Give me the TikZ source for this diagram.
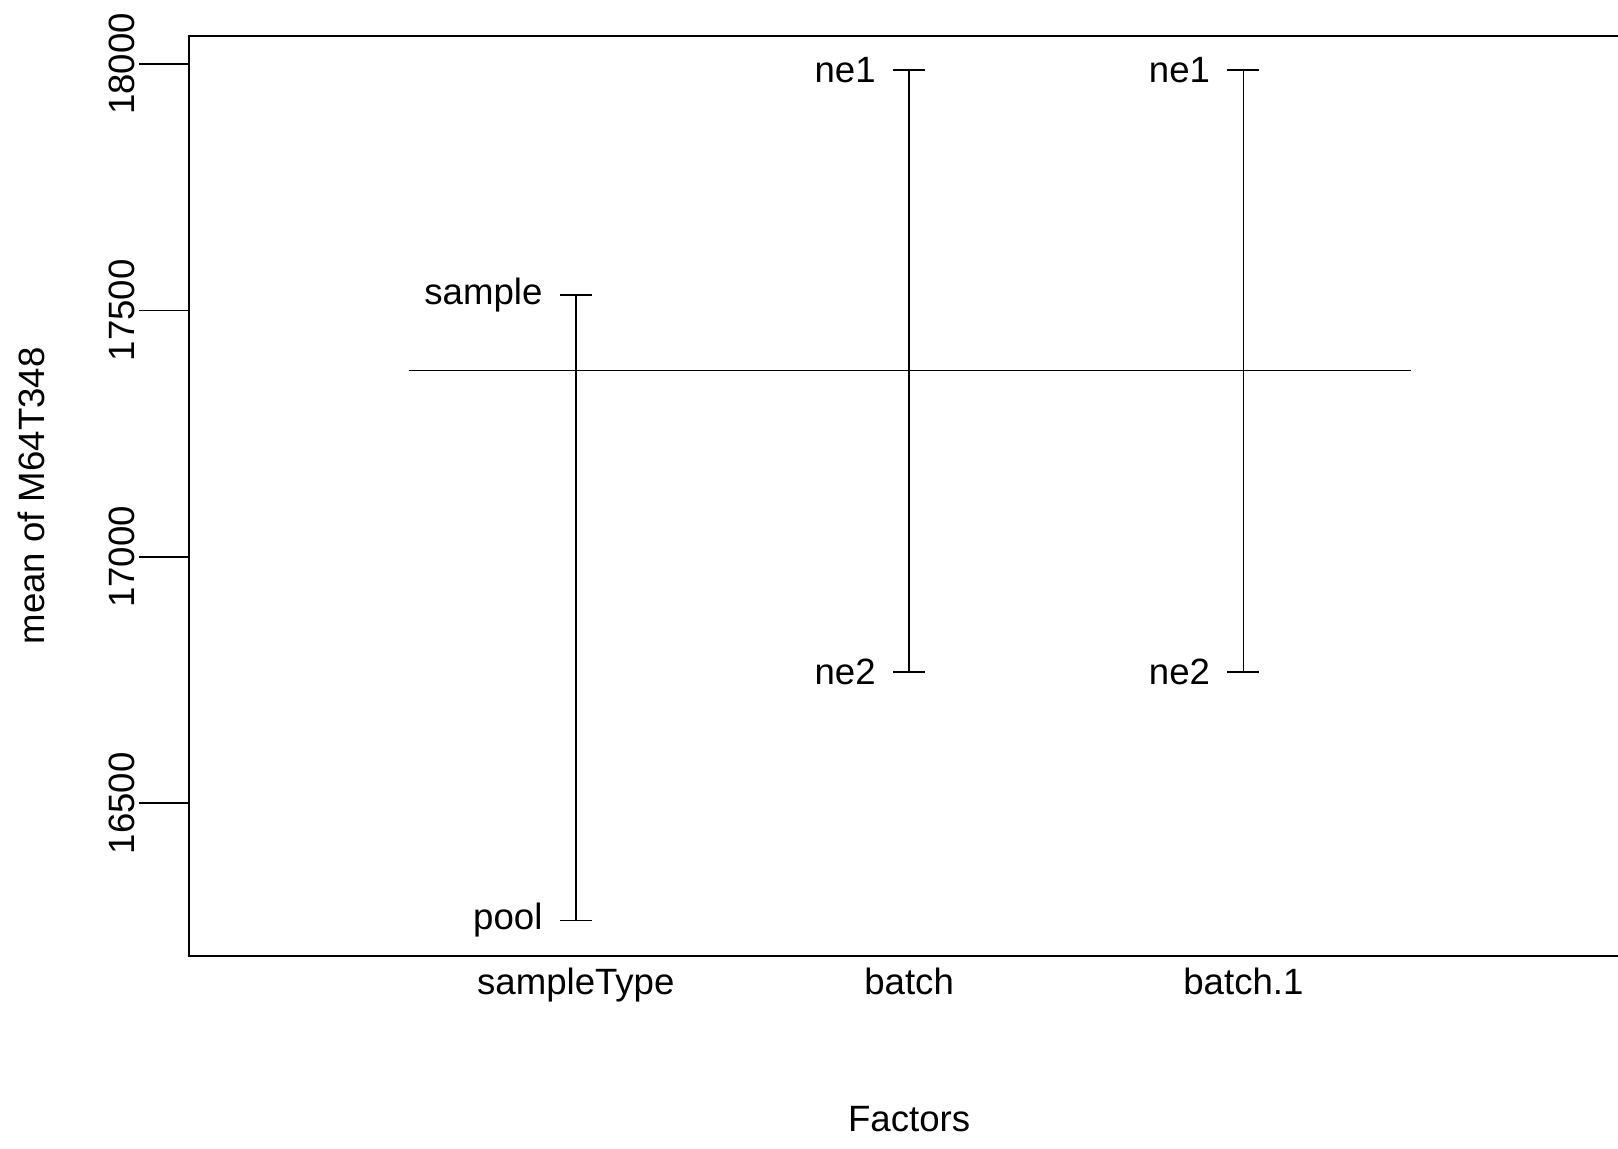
\documentclass[tikz,border=0pt]{standalone}
\usepackage{fontspec}
\setmainfont{Liberation Sans}
\usetikzlibrary{positioning}
\tikzset{
	lbl/.style={inner sep=0pt, font=\fontsize{18.3}{22}\selectfont},
	bar/.style={line width=0.9pt},
	frame/.style={line width=1pt},
}

\begin{document}
\begin{tikzpicture}[x=0.5pt,y=-0.5pt]
			%%%%% START %%%%%
			\useasboundingbox (0,0) rectangle (1618,1148);
			
			% plot box (right side runs off the page)
			\draw[frame] (1618,36.1) -- (188.8,36.1) -- (188.8,955.6) -- (1618,955.6);
			
			% y axis ticks and labels
			\foreach \v/\y in {18000/64,17500/310.4,17000/556.8,16500/803.2}{
				\draw[bar] (139.3,\y) -- (188.8,\y);
				\node[lbl,rotate=90,anchor=base] (tick\v) at (134.5,\y) {\v};
			}
			\node[lbl,rotate=90,anchor=base] (ytitle) at (44,495.9) {mean of M64T348};
			
			% grand mean
			\draw[bar] (408.6,370.4) -- (1410.6,370.4);
			
			% one bar per factor
			\foreach \x/\yt/\yb/\nt/\nb/\nm [count=\i] in {575.8/295.1/920.5/sample/pool/sampleType,
					909.1/70.2/671.8/ne1/ne2/batch,
					1243.4/70.2/671.8/ne1/ne2/batch.1}{
				\draw[bar] (\x-16,\yt) -- (\x+16,\yt);
				\draw[bar] (\x,\yt) -- (\x,\yb);
				\draw[bar] (\x-16,\yb) -- (\x+16,\yb);
				\node[lbl,anchor=east] (top\i) at (\x-33,\yt) {\nt};
				\node[lbl,anchor=east] (bot\i) at (\x-33,\yb) {\nb};
				\node[lbl,anchor=base] (fac\i) at (\x,994) {\nm};
			}
			
			\node[lbl,anchor=base] (xtitle) at (909.1,1131) {Factors};
			%%%%% END %%%%%
\end{tikzpicture}
\end{document}
